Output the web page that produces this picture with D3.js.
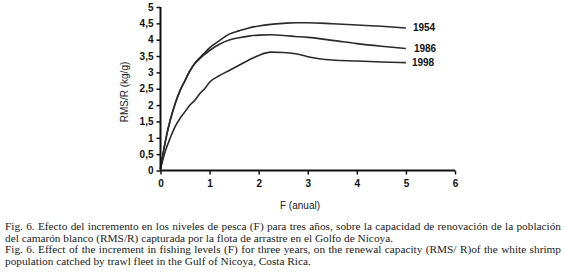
<!DOCTYPE html>
<html>
<head>
<meta charset="utf-8">
<script src="https://cdn.jsdelivr.net/npm/d3@7"></script>
<style>
  body { margin: 0; background: #fff; }
  #wrap { position: relative; width: 565px; height: 278px; overflow: hidden; }
  #caption {
    position: absolute; left: 5px; top: 221px; width: 556px;
    font-family: "Liberation Serif", "Times New Roman", serif;
    font-size: 11.3px; line-height: 11.6px; color: #222;
  }
  #caption div { white-space: nowrap; }
  #caption .full { text-align: justify; text-align-last: justify; }
</style>
</head>
<body>
<div id="wrap">
  <svg id="chart" width="565" height="278"></svg>
  <div id="caption"></div>
</div>
<script>
const F = [0, 0.1, 0.2, 0.3, 0.4, 0.5, 0.6, 0.7, 0.8, 0.9, 1.0, 1.2, 1.4, 1.6, 1.8, 2.0, 2.25, 2.5, 2.75, 3.0, 3.5, 4.0, 4.5, 5.0];
const rms1954 = [0.05, 0.9, 1.55, 2.05, 2.45, 2.75, 3.05, 3.28, 3.45, 3.6, 3.75, 3.97, 4.17, 4.27, 4.36, 4.42, 4.47, 4.5, 4.52, 4.52, 4.49, 4.45, 4.41, 4.36];
const rms1986 = [0.05, 0.9, 1.55, 2.05, 2.45, 2.75, 3.05, 3.27, 3.42, 3.55, 3.67, 3.86, 3.99, 4.06, 4.11, 4.14, 4.15, 4.13, 4.1, 4.07, 3.98, 3.88, 3.8, 3.73];
const rms1998 = [0.05, 0.6, 1.0, 1.35, 1.6, 1.8, 2.0, 2.15, 2.35, 2.5, 2.7, 2.9, 3.06, 3.22, 3.38, 3.52, 3.62, 3.61, 3.57, 3.48, 3.38, 3.35, 3.32, 3.3];
const seriesNames = ["1954", "1986", "1998"];
const xTicks = [0, 1, 2, 3, 4, 5, 6];
const yTicks = [0, 0.5, 1, 1.5, 2, 2.5, 3, 3.5, 4, 4.5, 5];
const captionLines = [
  "Fig. 6. Efecto del incremento en los niveles de pesca (F) para tres años, sobre la capacidad de renovación de la población",
  "del camarón blanco (RMS/R) capturada por la flota de arrastre en el Golfo de Nicoya.",
  "Fig. 6. Effect of the increment in fishing levels (F) for three years, on the renewal capacity (RMS/ R)of the white shrimp",
  "population catched by trawl fleet in the Gulf of Nicoya, Costa Rica."
];

d3.select("#caption").selectAll("div")
  .data(captionLines)
  .join("div")
  .attr("class", (d, i) => i % 2 === 0 ? "full" : "")
  .text(d => d);

const svg = d3.select("#chart");
const x = d3.scaleLinear().domain([0, 6]).range([160.5, 455]);
const y = d3.scaleLinear().domain([0, 5]).range([170.5, 7]);
const fmt = d => String(d).replace(".", ",");

const series = [rms1954, rms1986, rms1998].map((vals, i) => ({
  name: seriesNames[i],
  points: F.map((f, j) => ({ f, v: vals[j] }))
}));

const line = d3.line().x(d => x(d.f)).y(d => y(d.v)).curve(d3.curveMonotoneX);

svg.append("g").selectAll("path")
  .data(series)
  .join("path")
  .attr("d", d => line(d.points))
  .attr("fill", "none")
  .attr("stroke", "#2a2a2a")
  .attr("stroke-width", 1.6);

// year labels at the line ends
const labelDx = { "1954": 7, "1986": 8, "1998": 6 };
svg.append("g").selectAll("text")
  .data(series)
  .join("text")
  .attr("x", d => x(5) + labelDx[d.name])
  .attr("y", d => y(d.points[d.points.length - 1].v) + 3.5)
  .attr("font-family", "Arial, 'Liberation Sans', sans-serif")
  .attr("font-size", 10)
  .attr("font-weight", "bold")
  .attr("fill", "#111")
  .text(d => d.name);

const xAxis = svg.append("g")
  .attr("transform", `translate(0,${y(0)})`)
  .call(d3.axisBottom(x).tickValues(xTicks).tickSize(4).tickPadding(5).tickFormat(fmt));

const yAxis = svg.append("g")
  .attr("transform", `translate(${x(0)},0)`)
  .call(d3.axisLeft(y).tickValues(yTicks).tickSize(4).tickPadding(3).tickFormat(fmt));

[xAxis, yAxis].forEach(a => {
  a.select(".domain").attr("stroke", "#111").attr("stroke-width", 2);
  a.selectAll(".tick line").attr("stroke", "#111").attr("stroke-width", 1.5);
  a.selectAll(".tick text")
    .attr("fill", "#111")
    .attr("font-family", "Arial, 'Liberation Sans', sans-serif")
    .attr("font-size", 10)
    .attr("font-weight", "bold");
});
xAxis.select(".domain").attr("d", `M${x(0)},0H${x(6)}`);
yAxis.select(".domain").attr("d", `M0,${y(0)}V${y(5)}`);

svg.append("text")
  .attr("x", 300)
  .attr("y", 209)
  .attr("text-anchor", "middle")
  .attr("font-family", "Arial, 'Liberation Sans', sans-serif")
  .attr("font-size", 10)
  .attr("fill", "#222")
  .text("F (anual)");

svg.append("text")
  .attr("transform", "rotate(-90)")
  .attr("x", -92)
  .attr("y", 128)
  .attr("text-anchor", "middle")
  .attr("font-family", "Arial, 'Liberation Sans', sans-serif")
  .attr("font-size", 10)
  .attr("fill", "#222")
  .text("RMS/R (kg/g)");
</script>
</body>
</html>
